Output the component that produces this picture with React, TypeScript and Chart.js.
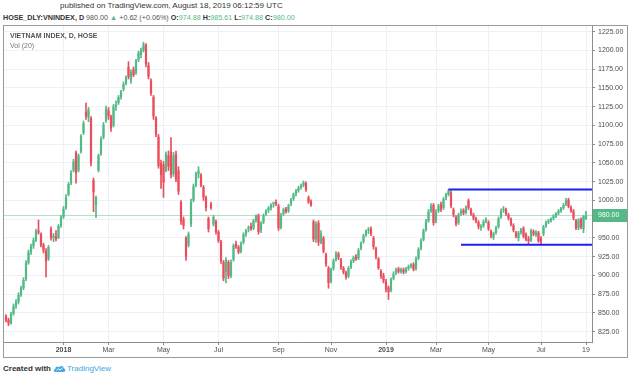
import React, { useEffect, useRef } from 'react';
import { Chart, registerables } from 'chart.js';

Chart.register(...registerables);

// Daily candles (open / high / low / close), VN-Index
const opens = [
  846, 841, 836, 849, 859, 865, 874, 883, 895, 917,
  931, 939, 947, 960, 955, 941, 933, 922, 962, 950,
  952, 950, 966, 978, 990, 1008, 1023, 1040, 1064, 1040,
  1065, 1090, 1118, 1111, 1110, 1027, 994, 1040, 1062, 1084,
  1106, 1120, 1112, 1100, 1125, 1130, 1138, 1148, 1156, 1178,
  1160, 1175, 1170, 1187, 1194, 1200, 1207, 1180, 1160, 1138,
  1110, 1085, 1050, 1048, 1040, 1060, 1065, 1035, 1062, 1040,
  998, 975, 950, 940, 968, 1000, 1020, 1035, 1034, 1018,
  1004, 976, 995, 968, 972, 958, 945, 918, 905, 918,
  900, 921, 942, 938, 932, 944, 955, 962, 966, 963,
  973, 980, 960, 971, 982, 987, 990, 995, 998, 993,
  964, 982, 989, 986, 995, 1002, 1009, 1013, 1017, 1020,
  1023, 1004, 999, 972, 948, 970, 944, 950, 928, 910,
  892, 909, 921, 929, 921, 910, 904, 899, 911, 919,
  925, 923, 936, 945, 954, 960, 962, 950, 936, 922,
  906, 900, 892, 884, 880, 896, 903, 909, 905, 908,
  905, 909, 912, 915, 909, 923, 936, 948, 961, 973,
  986, 994, 972, 986, 995, 990, 1003, 1008, 1011, 988,
  978, 970, 983, 987, 984, 1000, 988, 981, 976, 971,
  964, 966, 972, 971, 959, 951, 957, 965, 978, 987,
  988, 981, 975, 967, 957, 950, 957, 963, 955, 949,
  947, 959, 954, 957, 950, 955, 966, 971, 973, 976,
  979, 983, 986, 990, 995, 1001, 991, 986, 973, 963,
  975, 962, 974.88,
];
const highs = [
  848, 843, 851, 862, 868, 877, 886, 897, 920, 934,
  942, 950, 962, 974, 957, 943, 936, 940, 965, 956,
  960, 968, 980, 992, 1008, 1024, 1040, 1055, 1066, 1062,
  1088, 1106, 1130, 1124, 1112, 1030, 1006, 1062, 1085, 1104,
  1126, 1124, 1114, 1128, 1133, 1140, 1147, 1158, 1166, 1185,
  1174, 1178, 1188, 1199, 1203, 1211, 1209, 1184, 1162, 1140,
  1112, 1088, 1054, 1052, 1065, 1066, 1084, 1064, 1066, 1045,
  1000, 978, 952, 958, 1002, 1022, 1038, 1045, 1036, 1020,
  1006, 978, 998, 980, 974, 960, 947, 920, 924, 920,
  921, 942, 946, 940, 945, 957, 962, 966, 970, 975,
  981, 982, 972, 982, 988, 992, 996, 998, 1001, 995,
  983, 990, 991, 995, 1003, 1010, 1015, 1019, 1022, 1026,
  1025, 1006, 1001, 974, 972, 973, 960, 952, 930, 912,
  910, 922, 932, 931, 923, 912, 906, 912, 921, 926,
  928, 936, 945, 955, 961, 964, 965, 952, 938, 924,
  908, 903, 895, 886, 897, 905, 910, 911, 910, 910,
  911, 914, 916, 917, 925, 937, 949, 962, 975, 988,
  996, 996, 988, 995, 998, 1004, 1010, 1015, 1013, 990,
  980, 983, 989, 989, 993, 1002, 990, 983, 978, 973,
  968, 974, 977, 973, 961, 958, 966, 978, 989, 992,
  990, 983, 977, 969, 959, 959, 963, 965, 957, 952,
  962, 961, 960, 959, 952, 967, 973, 975, 977, 981,
  984, 988, 991, 996, 1003, 1003, 993, 988, 975, 976,
  977, 980, 985.61,
];
const lows = [
  838, 833, 835, 847, 856, 862, 872, 881, 893, 915,
  928, 936, 945, 955, 938, 930, 898, 920, 947, 945,
  946, 949, 964, 976, 988, 1006, 1021, 1038, 1023, 1038,
  1063, 1088, 1108, 1105, 1046, 985, 977, 1038, 1060, 1082,
  1104, 1108, 1092, 1098, 1120, 1128, 1135, 1146, 1154, 1162,
  1156, 1165, 1168, 1185, 1190, 1198, 1178, 1162, 1140, 1108,
  1085, 1043, 1016, 1004, 1038, 1040, 1030, 1032, 1025, 1008,
  968, 962, 920, 938, 965, 998, 1018, 1030, 1018, 1000,
  986, 958, 988, 966, 955, 944, 916, 893, 890, 896,
  897, 919, 936, 929, 930, 942, 952, 958, 960, 961,
  971, 955, 957, 969, 980, 984, 987, 991, 993, 960,
  962, 980, 983, 984, 993, 1000, 1006, 1011, 1015, 1018,
  1012, 996, 992, 945, 944, 940, 942, 930, 912, 883,
  890, 907, 919, 921, 908, 902, 895, 897, 909, 917,
  920, 921, 934, 943, 952, 956, 953, 935, 922, 908,
  896, 890, 878, 868, 878, 894, 901, 903, 903, 902,
  903, 907, 910, 906, 907, 921, 934, 946, 959, 971,
  984, 967, 970, 984, 985, 988, 1001, 1006, 990, 978,
  966, 968, 980, 981, 982, 988, 980, 974, 970, 962,
  960, 964, 970, 960, 950, 948, 955, 963, 976, 984,
  980, 974, 966, 958, 950, 946, 955, 950, 946, 942,
  945, 953, 952, 944, 942, 953, 964, 969, 971, 974,
  977, 981, 984, 988, 993, 990, 984, 974, 961, 961,
  962, 957, 974.88,
];
const closes = [
  840, 836, 849, 859, 865, 874, 883, 894, 917, 931,
  939, 947, 959, 957, 940, 933, 919, 938, 950, 953,
  948, 966, 978, 989, 1004, 1022, 1037, 1052, 1037, 1060,
  1086, 1103, 1112, 1121, 1050, 1011, 1004, 1060, 1082, 1101,
  1122, 1112, 1096, 1125, 1128, 1138, 1145, 1155, 1164, 1165,
  1171, 1167, 1186, 1197, 1200, 1208, 1182, 1165, 1143, 1112,
  1088, 1046, 1034, 1024, 1062, 1045, 1034, 1060, 1028, 1012,
  972, 966, 925, 955, 998, 1019, 1035, 1040, 1020, 1004,
  990, 962, 990, 978, 958, 946, 919, 896, 921, 899,
  918, 940, 938, 931, 943, 955, 960, 964, 962, 973,
  979, 958, 970, 980, 986, 990, 994, 997, 995, 963,
  980, 988, 985, 993, 1001, 1008, 1013, 1017, 1020, 1024,
  1014, 998, 994, 948, 968, 944, 956, 932, 915, 890,
  908, 920, 929, 924, 910, 904, 898, 910, 919, 924,
  922, 934, 943, 953, 959, 962, 955, 938, 925, 910,
  899, 893, 882, 878, 895, 902, 908, 905, 908, 904,
  909, 912, 915, 908, 922, 935, 947, 960, 972, 985,
  993, 970, 985, 993, 988, 1002, 1008, 1013, 993, 981,
  969, 981, 986, 983, 991, 990, 982, 976, 972, 965,
  966, 972, 975, 962, 953, 956, 964, 976, 986, 989,
  982, 976, 968, 960, 952, 957, 961, 952, 948, 946,
  960, 955, 958, 946, 945, 965, 971, 973, 976, 979,
  983, 986, 990, 994, 1000, 992, 986, 976, 963, 974,
  965, 979.38, 980,
];

const priceTicks = [825, 850, 875, 900, 925, 950, 975, 1000, 1025, 1050, 1075, 1100, 1125, 1150, 1175, 1200, 1225];
// candle index where each time-axis label sits
const monthTickIdx = [23, 41, 63, 85, 109, 130, 152, 172, 193, 214, 232];
const monthLabels = ['2018', 'Mar', 'May', 'Jul', 'Sep', 'Nov', '2019', 'Mar', 'May', 'Jul', '19'];
const boldLabels = ['2018', '2019'];

const lastPrice = 980;
const resistanceLevel = 1014.5;
const resistanceStartIdx = 177;
const supportLevel = 941;
const supportStartIdx = 182;

const UP = '#53b987';
const DOWN = '#eb4d5c';
const FONT = "'Liberation Sans', Arial, sans-serif";

export default function App() {
  const canvasRef = useRef<HTMLCanvasElement | null>(null);

  useEffect(() => {
    const canvas = canvasRef.current;
    if (!canvas) return;
    const n = closes.length;
    const idx = closes.map((_, i) => i);
    const colors = closes.map((c, i) => (c >= opens[i] ? UP : DOWN));
    const X_MIN = -0.8;
    const X_MAX = n - 1 + 2.4;
    const Y_MIN = 811.3;
    const Y_MAX = 1232.6;

    const badgePlugin = {
      id: 'priceBadge',
      afterDraw(chart: any) {
        const { ctx, chartArea, scales } = chart;
        const y = scales.y.getPixelForValue(lastPrice);
        ctx.save();
        ctx.fillStyle = UP;
        ctx.fillRect(chartArea.right + 1, Math.round(y) - 6, 34, 13);
        ctx.fillStyle = '#ffffff';
        ctx.font = `7px ${FONT}`;
        ctx.textBaseline = 'middle';
        ctx.textAlign = 'left';
        ctx.fillText(lastPrice.toFixed(2), chartArea.right + 6, Math.round(y) + 0.5);
        ctx.restore();
      },
    };

    const chart = new Chart(canvas, {
      type: 'bar',
      data: {
        datasets: [
          {
            type: 'line',
            data: [{ x: X_MIN, y: lastPrice }, { x: X_MAX, y: lastPrice }],
            borderColor: '#b3dec6',
            borderWidth: 1,
            pointRadius: 0,
            order: 5,
          } as any,
          {
            type: 'bar',
            data: idx.map((i) => ({ x: i, y: [lows[i], highs[i]] })),
            backgroundColor: colors,
            grouped: false,
            maxBarThickness: 1,
            barPercentage: 1,
            categoryPercentage: 1,
            order: 4,
          } as any,
          {
            type: 'bar',
            data: idx.map((i) => ({ x: i, y: [opens[i], closes[i]] })),
            backgroundColor: colors,
            grouped: false,
            barPercentage: 0.88,
            categoryPercentage: 1,
            minBarLength: 1,
            order: 3,
          } as any,
          {
            type: 'line',
            data: [{ x: resistanceStartIdx, y: resistanceLevel }, { x: X_MAX, y: resistanceLevel }],
            borderColor: '#1f1fef',
            borderWidth: 2,
            pointRadius: 0,
            order: 1,
          } as any,
          {
            type: 'line',
            data: [{ x: supportStartIdx, y: supportLevel }, { x: X_MAX, y: supportLevel }],
            borderColor: '#1f1fef',
            borderWidth: 2,
            pointRadius: 0,
            order: 1,
          } as any,
        ],
      },
      options: {
        animation: false,
        responsive: false,
        maintainAspectRatio: false,
        devicePixelRatio: 1,
        events: [],
        layout: { padding: 0 },
        plugins: { legend: { display: false }, tooltip: { enabled: false } },
        scales: {
          x: {
            type: 'linear',
            min: X_MIN,
            max: X_MAX,
            offset: false,
            afterBuildTicks: (s: any) => {
              s.ticks = monthTickIdx.map((v) => ({ value: v }));
            },
            afterFit: (s: any) => {
              s.height = 15;
              s.paddingLeft = 0;
              s.paddingRight = 0;
            },
            ticks: {
              autoSkip: false,
              maxRotation: 0,
              minRotation: 0,
              padding: 1,
              color: '#4d4d4d',
              font: (c: any) => ({
                family: FONT,
                size: 7,
                weight: boldLabels.includes(monthLabels[c.index]) ? 'bold' : 'normal',
              }),
              callback: (_v: any, i: number) => monthLabels[i],
            },
            grid: { color: '#edf1f7', offset: false, tickLength: 3, tickColor: '#8a8a8a', drawTicks: true },
            border: { display: true, color: '#8c8c8c' },
          },
          y: {
            type: 'linear',
            position: 'right',
            min: Y_MIN,
            max: Y_MAX,
            afterBuildTicks: (s: any) => {
              s.ticks = priceTicks.map((v) => ({ value: v }));
            },
            afterFit: (s: any) => {
              s.width = 35;
              s.paddingTop = 0;
              s.paddingBottom = 0;
            },
            ticks: {
              padding: 3,
              color: '#4d4d4d',
              font: { family: FONT, size: 7 },
              callback: (v: any) => Number(v).toFixed(2),
            },
            grid: { color: '#edf1f7', tickLength: 3, tickColor: '#8a8a8a', drawTicks: true },
            border: { display: true, color: '#8c8c8c' },
          },
        },
      } as any,
      plugins: [badgePlugin],
    });

    return () => {
      chart.destroy();
    };
  }, []);

  const g = { color: UP };
  const b = { fontWeight: 'bold' as const, color: '#333' };

  return (
    <div
      style={{
        position: 'absolute',
        left: 0,
        top: 0,
        width: 630,
        height: 379,
        background: '#ffffff',
        fontFamily: FONT,
        overflow: 'hidden',
      }}
    >
      <div style={{ position: 'absolute', left: 60, top: 1, fontSize: 8, color: '#333', whiteSpace: 'nowrap' }}>
        published on TradingView.com, August 18, 2019 06:12:59 UTC
      </div>
      <div style={{ position: 'absolute', left: 3, top: 13, fontSize: 7.2, color: '#555', whiteSpace: 'nowrap' }}>
        <span style={b}>HOSE_DLY:VNINDEX, D</span> 980.00 <span style={g}>▲</span> +0.62 (+0.06%){' '}
        <span style={b}>O:</span><span style={g}>974.88</span> <span style={b}>H:</span>
        <span style={g}>985.61</span> <span style={b}>L:</span><span style={g}>974.88</span>{' '}
        <span style={b}>C:</span><span style={g}>980.00</span>
      </div>
      <div
        style={{
          position: 'absolute',
          left: 3,
          top: 25,
          width: 623,
          height: 331,
          border: '1px solid #9a9a9a',
        }}
      >
        <canvas ref={canvasRef} width={623} height={331} style={{ display: 'block', width: 623, height: 331 }} />
        <div style={{ position: 'absolute', left: 6, top: 6, fontSize: 7, fontWeight: 'bold', color: '#555', whiteSpace: 'nowrap' }}>
          VIETNAM INDEX, D, HOSE
        </div>
        <div style={{ position: 'absolute', left: 6, top: 16, fontSize: 7, color: '#777', whiteSpace: 'nowrap' }}>
          Vol (20)
        </div>
      </div>
      <div style={{ position: 'absolute', left: 3, top: 364, fontSize: 8, whiteSpace: 'nowrap', display: 'flex', alignItems: 'center' }}>
        <span style={{ fontWeight: 'bold', color: '#333' }}>Created with</span>
        <svg width="13" height="9" viewBox="0 0 13 9" style={{ marginLeft: 2, marginRight: 1 }}>
          <path d="M2.5 8 C0.5 8 0.3 5.2 2.2 4.9 C2.4 2.6 5 1.8 6.3 3.3 C7.2 1.2 10.6 1.5 10.8 4.2 C12.8 4.4 12.8 8 10.6 8 Z" fill="#4aa9df" />
          <path d="M3.5 6.3 L5.5 4.8 L7 6 L9.6 3.8" stroke="#ffffff" strokeWidth="0.9" fill="none" />
        </svg>
        <span style={{ color: '#3aa7e0' }}>TradingView</span>
      </div>
    </div>
  );
}
